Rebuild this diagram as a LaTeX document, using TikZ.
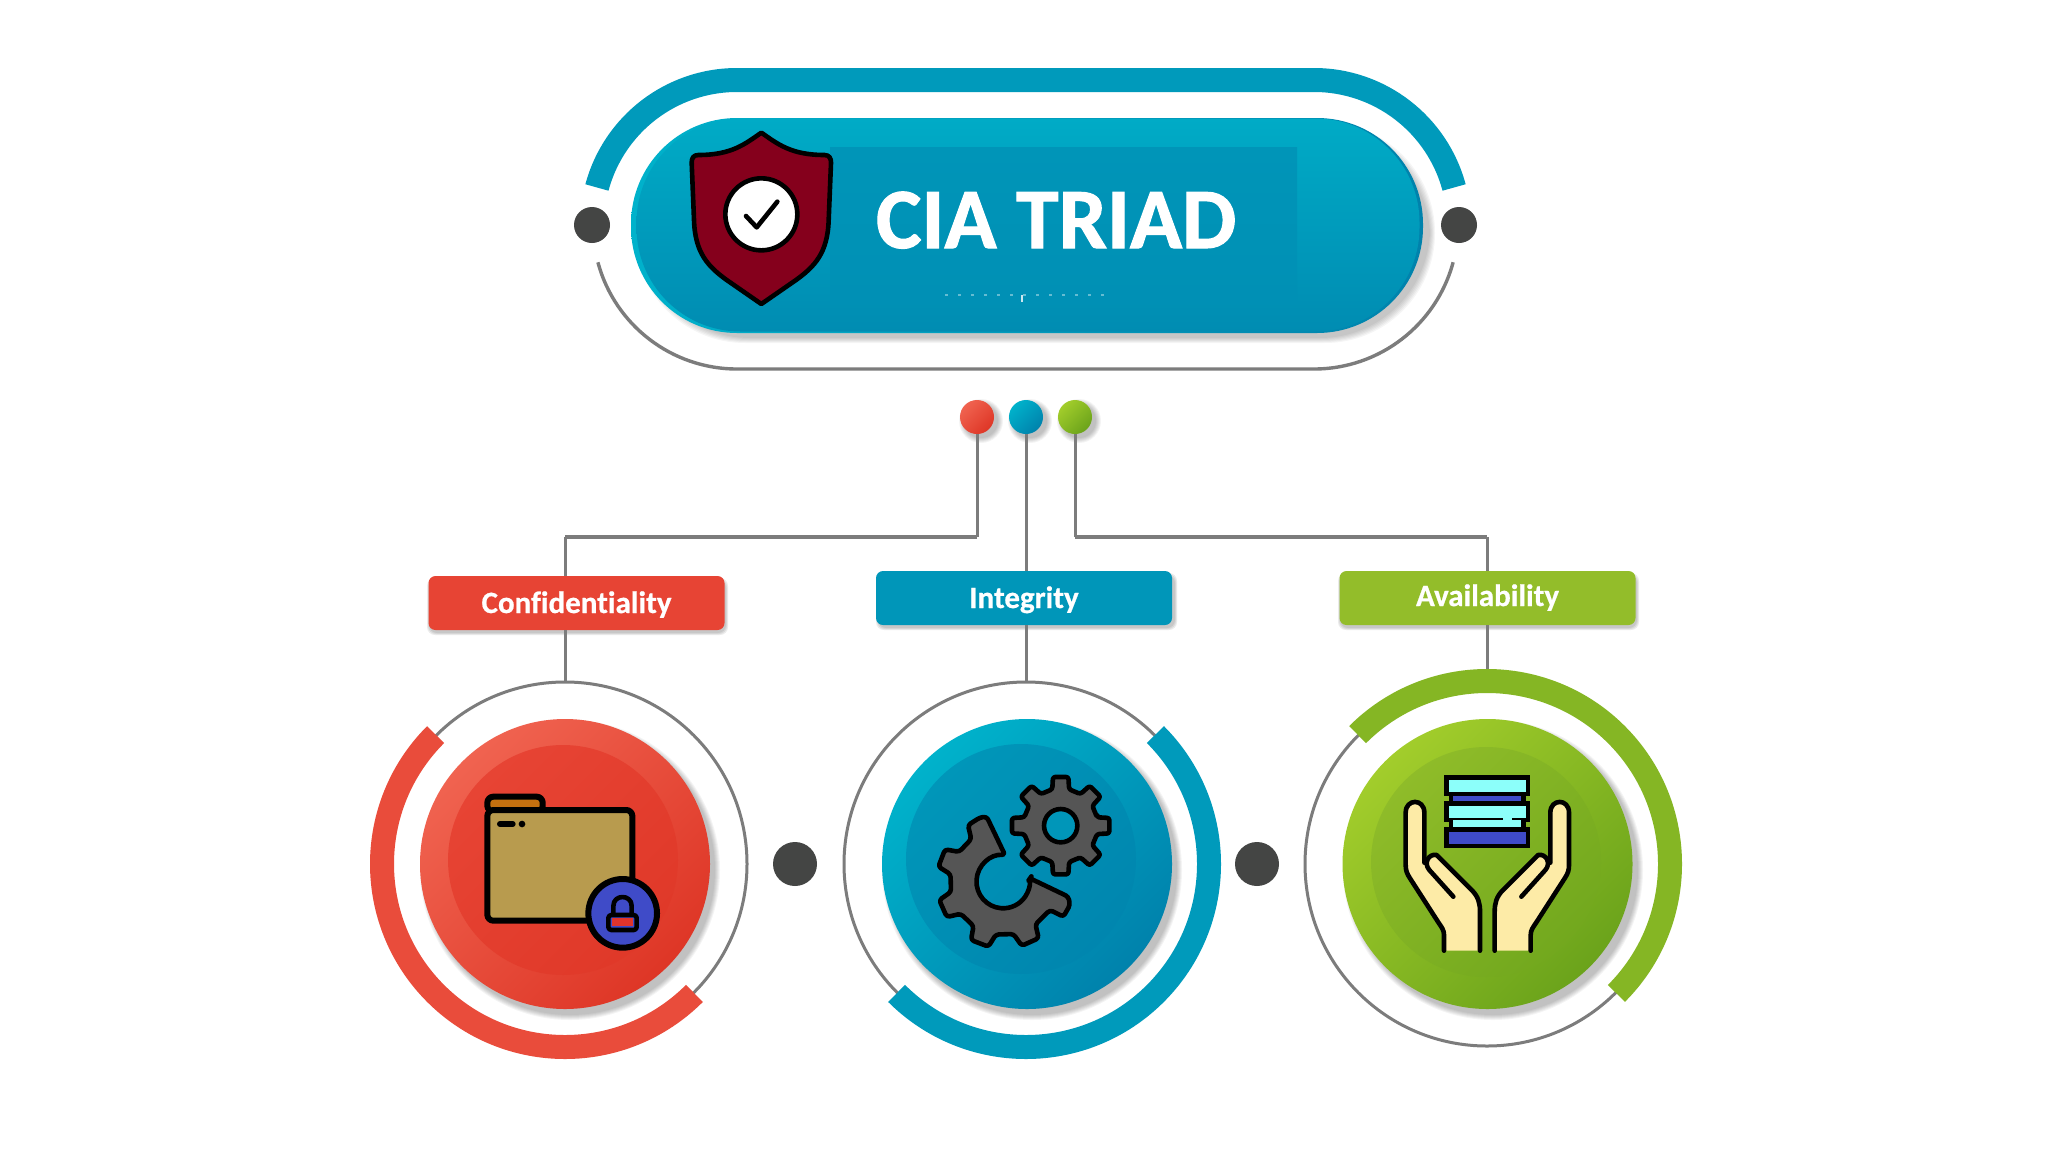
\documentclass[tikz,border=0pt]{standalone}
\usepackage{fontspec}
\setmainfont{Carlito}[BoldFont={Carlito Bold}]
\newfontfamily\titlefont{Carlito Bold}[FakeBold=1.2]
\newfontfamily\labelfont{Carlito Bold}[FakeBold=0.6,Ligatures=NoCommon]
\definecolor{linegray}{HTML}{7C7C7C}
\definecolor{darkdot}{HTML}{444544}
\definecolor{redring}{HTML}{E94C3B}
\definecolor{redlight}{HTML}{F06350}
\definecolor{reddark}{HTML}{DE3626}
\definecolor{redinner}{HTML}{E74434}
\definecolor{tealring}{HTML}{009ABB}
\definecolor{teallight}{HTML}{00B2CB}
\definecolor{tealdark}{HTML}{0082AC}
\definecolor{tealinner}{HTML}{0096B9}
\definecolor{greenring}{HTML}{85B624}
\definecolor{greenlight}{HTML}{A2CD2B}
\definecolor{greendark}{HTML}{6BA31B}
\definecolor{greeninner}{HTML}{8FBC29}
\definecolor{greenbox}{HTML}{93BD2A}
\definecolor{shieldred}{HTML}{85001C}
\definecolor{folderbody}{HTML}{B89B4E}
\definecolor{foldertab}{HTML}{C4700F}
\definecolor{lockblue}{HTML}{3F4BC8}
\definecolor{lockred}{HTML}{E0342C}
\definecolor{gearfill}{HTML}{555555}
\definecolor{stackcyan}{HTML}{8CFFFA}
\definecolor{handskin}{HTML}{FDEBA7}
\definecolor{pilltop}{HTML}{00ABC6}
\definecolor{pillmid}{HTML}{0098BB}
\definecolor{pillbot}{HTML}{008CB2}
\definecolor{rectop}{HTML}{0095B8}
\definecolor{recbot}{HTML}{0090B5}
\tikzset{
  every node/.style={inner sep=0pt,outer sep=0pt},
  conn/.style={draw=linegray,line width=1.5pt},
  thickconn/.style={draw=linegray,line width=1.9pt},
  arcband/.style={line width=12pt,line cap=butt},
  graycircle/.style={circle,draw=linegray,line width=1.5pt,minimum size=182pt},
  darkdotnode/.style={circle,fill=darkdot,minimum size=22pt},
  smalldot/.style={circle,minimum size=17pt},
  discnode/.style={circle,minimum size=145pt},
  innerdisc/.style={circle,minimum size=115pt},
  labelbox/.style={rectangle,rounded corners=3.5pt,minimum width=148pt,minimum height=27pt,
     text=white,font=\fontsize{15.5}{18}\selectfont\labelfont,text depth=0pt},
  icon/.style={draw=black,line width=2.3pt,line join=round,line cap=round},
}
\newcommand{\softshadow}[3]{%
  \foreach \k in {0,...,5}{\fill[black,opacity=.045] (#1,#2) circle[radius=#3+5-\k];}}
\newcommand{\drawhand}{%
  \fill[handskin] (462,842) -- (462,795) .. controls (462,780) and (455,772) .. (445,757) -- (360,625)
     .. controls (350,610) and (347,600) .. (347,585) -- (347,428) .. controls (347,390) and (403,390) .. (403,428)
     -- (403,570) -- (425,553) -- (440,555) -- (545,660) .. controls (565,680) and (570,700) .. (570,725) -- (570,842) -- cycle;
  \draw[icon] (462,842) -- (462,795) .. controls (462,780) and (455,772) .. (445,757) -- (360,625)
     .. controls (350,610) and (347,600) .. (347,585) -- (347,428) .. controls (347,385) and (403,385) .. (403,428) -- (403,578);
  \draw[icon] (490,680) -- (418,600) .. controls (400,580) and (415,550) .. (440,555)
     -- (545,660) .. controls (565,680) and (570,700) .. (570,725) -- (570,842);
}
\begin{document}
\begin{tikzpicture}[x=0.5pt,y=-0.5pt]
\useasboundingbox (0,0) rectangle (2048,1162);
\fill[white] (0,0) rectangle (2048,1162);

% --- title pill ---
\draw[tealring,line width=12pt,line cap=butt]
   ([shift={(-165:145)}]737,225) arc[start angle=-165,end angle=-90,radius=145]
   -- ([shift={(-90:145)}]1314,225) arc[start angle=-90,end angle=-15,radius=145];
\draw[conn,line width=1.7pt]
   ([shift={(165:144)}]737,225) arc[start angle=165,end angle=90,radius=144]
   -- ([shift={(90:144)}]1314,225) arc[start angle=90,end angle=15,radius=144];
\node[darkdotnode,minimum size=18pt] (dotl) at (592,225) {};
\node[darkdotnode,minimum size=18pt] (dotrt) at (1459,225) {};
\foreach \k in {0,...,5}{
  \fill[black,opacity=.04,rounded corners=55pt] (640-\k,128-\k) rectangle (1430+\k,338+\k);}
\node[rectangle,rounded corners=53pt,minimum width=396pt,minimum height=107.5pt,
      left color=teallight,right color=tealdark] (pillbase) at (1027,225.5) {};
\node[rectangle,rounded corners=52pt,minimum width=391.5pt,minimum height=106.5pt,
      top color=pilltop,middle color=pillmid,bottom color=pillbot] (pill) at (1028,225) {};
\fill[top color=rectop,bottom color=recbot] (830,147) rectangle (1297,300);
\draw[white,opacity=.4,line width=.7pt,dash pattern=on 1.5pt off 5pt] (945,295) -- (1105,295);
\draw[white,opacity=.8,line width=.7pt] (1022,295) -- (1022,302);

% shield (zoom coordinates)
\begin{scope}[shift={(670,120)},x=0.16667pt,y=-0.16667pt]
  \draw[icon,fill=shieldred] (274,38) .. controls (225,72) and (185,105) .. (85,105)
     .. controls (70,105) and (65,115) .. (65,128) -- (72,300)
     .. controls (75,400) and (115,440) .. (170,480) -- (274,552) -- (378,480)
     .. controls (433,440) and (473,400) .. (476,300) -- (483,128)
     .. controls (483,115) and (478,105) .. (463,105)
     .. controls (363,105) and (323,72) .. (274,38) -- cycle;
  \draw[icon,fill=white] (274,283) circle[radius=108];
  \draw[icon] (228,288) -- (260,322) -- (322,245);
\end{scope}
\node[anchor=base west,text=white,font=\fontsize{43}{50}\selectfont\titlefont] (title) at (876,248) {CIA TRIAD};

% --- three dots ---
\softshadow{981}{421}{17}
\softshadow{1030}{421}{17}
\softshadow{1079}{421}{17}
\node[smalldot,top color=redlight,bottom color=reddark,shading angle=45] (dotr) at (977,417) {};
\node[smalldot,top color=teallight,bottom color=tealdark,shading angle=45] (dott) at (1026,417) {};
\node[smalldot,top color=greenlight,bottom color=greendark,shading angle=45] (dotg) at (1075,417) {};

% --- gray circles and label boxes ---
\node[graycircle] (ringc) at (565,864) {};
\node[graycircle] (ringi) at (1026,864) {};
\node[graycircle] (ringa) at (1487,864) {};
\foreach \bx/\by in {428/576,877/571,1339/571}{
  \foreach \k in {0,1,2}{
   \fill[black,opacity=.08,rounded corners=4pt] (\bx+1-\k,\by+4-\k) rectangle (\bx+298+\k,\by+57+\k);}}
\node[labelbox,fill=redinner,text height=10pt] (boxc) at (576.5,603) {Confidentiality};
\node[labelbox,fill=tealinner,text height=10pt] (boxi) at (1024,598) {Integrity};
\node[labelbox,fill=greenbox,text height=8pt] (boxa) at (1487.5,598) {Availability};

% --- connectors ---
\coordinate (jc) at (565,537);
\coordinate (ja) at (1487,537);
\draw[conn] (dotr.south) -- (dotr |- jc);
\draw[thickconn] (dotr |- jc) -- (jc);
\draw[conn] (jc) -- (boxc.north -| jc);
\draw[conn] (boxc.south -| jc) -- (ringc.north);
\draw[conn] (dott.south) -- (boxi.north -| dott);
\draw[conn] (boxi.south -| dott) -- (ringi.north);
\draw[conn] (dotg.south) -- (dotg |- ja);
\draw[thickconn] (dotg |- ja) -- (ja);
\draw[conn] (ja) -- (boxa.north -| ja);
\draw[conn] (boxa.south -| ja) -- (ringa.north);

% --- coloured bands ---
\draw[arcband,redring] ([shift={(-135:183)}]ringc) arc[start angle=-135,end angle=-315,radius=183];
\draw[arcband,tealring] ([shift={(-45:183)}]ringi) arc[start angle=-45,end angle=135,radius=183];
\draw[arcband,greenring] ([shift={(-135:183)}]ringa) arc[start angle=-135,end angle=45,radius=183];

\node[darkdotnode] (midl) at (795,864) {};
\node[darkdotnode] (midr) at (1257,864) {};

% --- discs ---
\softshadow{570}{870}{145}
\softshadow{1032}{870}{145}
\softshadow{1493}{870}{145}
\node[discnode,top color=redlight,middle color=redinner,bottom color=reddark,shading angle=45] (discc) at (565,864) {};
\node[innerdisc,top color=redinner,middle color=redinner,bottom color=reddark!80!redinner,shading angle=45] (inc) at (563,860) {};
\node[discnode,top color=teallight,middle color=tealinner,bottom color=tealdark,shading angle=45] (disci) at (1027,864) {};
\node[innerdisc,top color=tealinner,middle color=tealinner,bottom color=tealdark!80!tealinner,shading angle=45] (ini) at (1021,859) {};
\node[discnode,top color=greenlight,middle color=greeninner,bottom color=greendark,shading angle=45] (disca) at (1487.5,864) {};
\node[innerdisc,top color=greeninner,middle color=greeninner,bottom color=greendark!80!greeninner,shading angle=45] (ina) at (1486,862) {};

% folder icon (zoom coordinates)
\begin{scope}[shift={(360,670)},x=0.16667pt,y=-0.16667pt]
  \draw[icon,line width=3pt,fill=foldertab,rounded corners=3pt] (382,425) -- (382,380) -- (548,380) -- (548,425) -- cycle;
  \draw[icon,line width=3pt,fill=folderbody,rounded corners=3pt] (382,420) rectangle (817,752);
  \draw[icon,line width=3pt] (420,462) -- (458,462);
  \fill (486,462) circle[radius=10];
  \draw[icon,line width=3pt,fill=lockblue] (788,730) circle[radius=103];
  \draw[icon,fill=lockblue] (760,740) -- (760,708) .. controls (760,672) and (815,672) .. (815,708) -- (815,740);
  \draw[icon,fill=lockblue,rounded corners=1.5pt] (745,735) rectangle (830,780);
  \fill[lockred] (757,745) rectangle (820,768);
\end{scope}

% gear icon (zoom coordinates)
\begin{scope}[shift={(830,670)},x=0.16667pt,y=-0.16667pt]
  \begin{scope}[shift={(692,467)}]
    \draw[icon,fill=gearfill,rounded corners=1.2pt]
      (-13:112) \foreach \a in {0,45,...,315}{ -- (\a-13:112) -- (\a-9:148) -- (\a+9:148) -- (\a+13:112)} -- cycle;
    \draw[icon,fill=tealinner] (0,0) circle[radius=50];
  \end{scope}
  \begin{scope}[shift={(520,635)}]
    \draw[icon,fill=gearfill,rounded corners=1.5pt]
      (80,-10) -- (195,45) -- (200,70) -- (180,105) -- (140,85)
      \foreach \a in {66,111,156,201}{ -- (\a-13:160) -- (\a-8:200) -- (\a+8:200) -- (\a+13:160)}
      -- (233:160) -- (238:200) -- (250:205) -- (-50,-195) -- (5,-80)
      arc[start angle=274,end angle=-6,radius=80] -- cycle;
  \end{scope}
\end{scope}

% hands and stack icon (zoom coordinates)
\begin{scope}[shift={(1290,670)},x=0.16667pt,y=-0.16667pt]
  \drawhand
  \draw[icon,fill=stackcyan,line join=miter] (470,323) rectangle (714,372);
  \draw[icon,fill=lockblue,line join=miter] (483,372) rectangle (701,400);
  \draw[icon,fill=stackcyan,line join=miter] (470,400) rectangle (714,450);
  \fill[stackcyan] (483,450) rectangle (701,478);
  \draw[icon,line cap=butt] (483,450) -- (483,478);
  \draw[icon,line cap=butt] (701,450) -- (701,478);
  \fill[stackcyan] (640,442) rectangle (665,458);
  \draw[icon,fill=lockblue,line join=miter] (470,478) rectangle (714,528);
\end{scope}
\begin{scope}[shift={(1684.67,670)},x=-0.16667pt,y=-0.16667pt]
  \drawhand
\end{scope}
\end{tikzpicture}
\end{document}
